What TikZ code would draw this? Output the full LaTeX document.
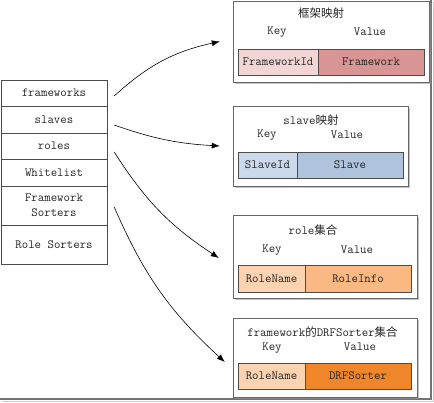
\documentclass[tikz,border=0pt]{standalone}
\usepackage{fontspec}
\newfontfamily\cjk{Noto Sans CJK SC}
\usetikzlibrary{arrows.meta,shadows}

\definecolor{fwkey}{HTML}{F2D6D6}
\definecolor{fwval}{HTML}{D99593}
\definecolor{slkey}{HTML}{CAD9EB}
\definecolor{slval}{HTML}{AFC3DC}
\definecolor{rokey}{HTML}{FCD3B0}
\definecolor{roval}{HTML}{FAB882}
\definecolor{drval}{HTML}{F0862A}

\tikzset{
  cell/.style={draw=black!70, inner sep=0pt, text=black!85,
    font=\ttfamily\fontsize{12.5}{15}\selectfont},
  mapbox/.style={draw=black!60, fill=white, inner sep=0pt,
    drop shadow={shadow xshift=1.5pt, shadow yshift=-1.5pt, fill=black!40, opacity=.6}},
  lbl/.style={inner sep=0pt, text=black!85, font=\ttfamily\fontsize{12.5}{15}\selectfont},
  link/.style={-{Latex[length=8pt,width=6pt]}, semithick, black}
}

\begin{document}
\begin{tikzpicture}[x=1pt, y=-1pt]
		\useasboundingbox (0,0) rectangle (434,402);
		\draw[black!55, line width=1.5pt] (431,0)--(431,399)--(0,399);
		\draw[black!20, line width=1pt] (433,2)--(433,401)--(2,401);
		
		% left stack
		\node[cell, minimum width=106pt, minimum height=26pt] (fw) at (54,93) {frameworks};
		\node[cell, minimum width=106pt, minimum height=27pt] (sl) at (54,119.5) {slaves};
		\node[cell, minimum width=106pt, minimum height=26pt] (ro) at (54,146) {roles};
		\node[cell, minimum width=106pt, minimum height=27pt] (wl) at (54,172.5) {Whitelist};
		\node[cell, minimum width=106pt, minimum height=39pt, align=center] (fs) at (54,205.5) {Framework\\Sorters};
		\node[cell, minimum width=106pt, minimum height=39pt] (rs) at (54,244.5) {Role Sorters};
		
		% framework map
		\node[mapbox, minimum width=196pt, minimum height=81pt] (fwmap) at (331,41.5) {};
		\node[lbl] at (321,13) {\cjk\fontsize{11.5}{14}\selectfont 框架映射};
		\node[lbl] at (277,32) {Key};
		\node[lbl] at (370,32) {Value};
		\node[cell, fill=fwkey, minimum width=80pt, minimum height=26pt] (fwk) at (278,62) {FrameworkId};
		\node[cell, fill=fwval, minimum width=106pt, minimum height=26pt] (fwv) at (371,62) {Framework};
		
		% slave map
		\node[mapbox, minimum width=175pt, minimum height=80pt] (slmap) at (320.5,146) {};
		\node[lbl] at (311,120) {slave{\cjk\fontsize{11.5}{14}\selectfont 映射}};
		\node[lbl] at (267,135) {Key};
		\node[lbl] at (347,135) {Value};
		\node[cell, fill=slkey, minimum width=59pt, minimum height=26pt] (slk) at (267.5,165) {SlaveId};
		\node[cell, fill=slval, minimum width=106pt, minimum height=26pt] (slv) at (350,165) {Slave};
		
		% role set
		\node[mapbox, minimum width=184pt, minimum height=83pt] (romap) at (325,256.5) {};
		\node[lbl] at (313,230) {role{\cjk\fontsize{11.5}{14}\selectfont 集合}};
		\node[lbl] at (272,250) {Key};
		\node[lbl] at (357,250) {Value};
		\node[cell, fill=rokey, minimum width=67pt, minimum height=27pt] (rok) at (271.5,278.5) {RoleName};
		\node[cell, fill=roval, minimum width=106pt, minimum height=27pt] (rov) at (358,278.5) {RoleInfo};
		
		% DRFSorter set
		\node[mapbox, minimum width=184pt, minimum height=79pt] (drmap) at (325,357.5) {};
		\node[lbl] at (322.5,332) {framework{\cjk\fontsize{11.5}{14}\selectfont 的}DRFSorter{\cjk\fontsize{11.5}{14}\selectfont 集合}};
		\node[lbl] at (272,348) {Key};
		\node[lbl] at (360,347) {Value};
		\node[cell, fill=rokey, minimum width=67pt, minimum height=26pt] (drk) at (271.5,376) {RoleName};
		\node[cell, fill=drval, minimum width=106pt, minimum height=26pt] (drv) at (358,376) {DRFSorter};
		
		% links
		\draw[link] ([xshift=7pt,yshift=-3pt]fw.east) to[bend left=15] ([xshift=-13pt]fwmap.west);
		\draw[link] ([xshift=7pt,yshift=-5.5pt]sl.east) to[bend right=8] ([xshift=-13pt]slmap.west);
		\draw[link] ([xshift=7pt,yshift=-6pt]ro.east) to[bend right=12] ([xshift=-14pt,yshift=-1.5pt]romap.west);
		\draw[link] ([xshift=7pt,yshift=-1.5pt]fs.east) to[bend right=12] ([xshift=-8pt,yshift=-4.5pt]drmap.west);
	\end{tikzpicture}
\end{document}
